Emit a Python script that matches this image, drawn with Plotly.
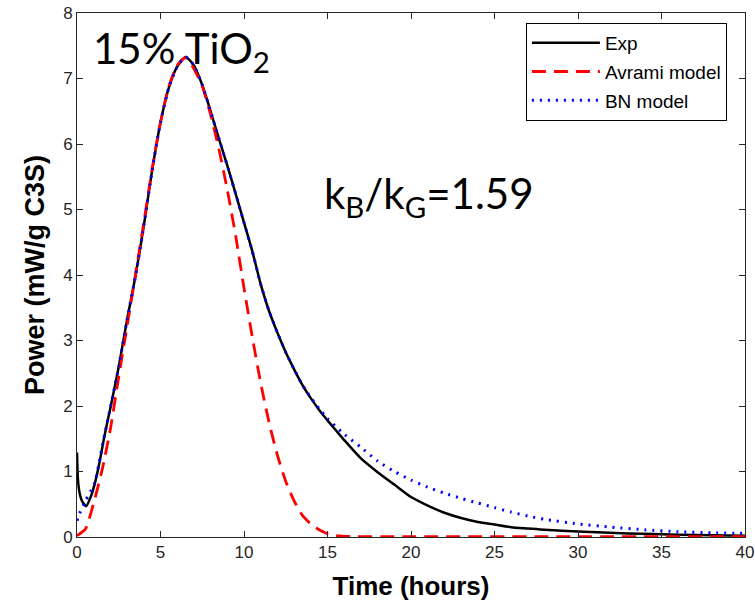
import plotly.graph_objects as go

# ---- data ----
exp_t = [0, 0.05, 0.15, 0.3, 0.55, 0.8, 1.05, 1.3, 1.65, 2.0, 2.5, 3.0, 3.5, 4.0, 4.5, 5.0,
         5.5, 6.0, 6.5, 7.0, 7.5, 8.0, 8.5, 9.0, 9.5, 10.0, 10.5, 11.0, 11.5, 12.0, 12.5,
         13.0, 13.5, 14.0, 14.5, 15.0, 15.5, 16.0, 17.0, 18.0, 19.0, 20.0, 21.0, 22.0, 23.0,
         24.0, 25.0, 26.0, 27.0, 28.0, 30.0, 33.0, 36.0, 40.0]
exp_v = [1.29, 0.9, 0.68, 0.55, 0.47, 0.6, 0.8, 1.08, 1.55, 1.97, 2.6, 3.32, 3.98, 4.75, 5.6,
         6.33, 6.86, 7.18, 7.33, 7.2, 6.9, 6.5, 6.08, 5.67, 5.24, 4.8, 4.36, 3.86, 3.45, 3.12,
         2.82, 2.56, 2.32, 2.12, 1.94, 1.78, 1.63, 1.48, 1.2, 0.99, 0.8, 0.61, 0.48, 0.37,
         0.29, 0.23, 0.19, 0.15, 0.13, 0.11, 0.085, 0.055, 0.035, 0.02]

avr_t = [0, 0.5, 1.0, 1.5, 2.0, 2.5, 3.0, 3.5, 4.0, 4.5, 5.0, 5.5, 6.0, 6.5, 7.0, 7.5,
         8.0, 8.5, 9.0, 9.5, 10.0, 10.5, 11.0, 11.5, 12.0, 12.5, 13.0, 13.5, 14.0, 14.5, 15.0,
         15.5, 16.0, 20.0, 30.0, 40.0]
avr_v = [0.02, 0.12, 0.52, 1.02, 1.65, 2.45, 3.22, 4.0, 4.8, 5.62, 6.33, 6.88, 7.2,
         7.32, 7.15, 6.88, 6.45, 5.92, 5.3, 4.6, 3.8, 3.05, 2.35, 1.75, 1.25, 0.85, 0.55,
         0.33, 0.2, 0.11, 0.05, 0.02, 0.01, 0.005, 0.005, 0.005]

bn_t = [0, 0.16, 0.5, 0.76, 1.05, 1.3, 1.65, 2.0, 2.5, 3.0, 3.5, 4.0, 4.5, 5.0, 5.5, 6.0,
        6.5, 7.0, 7.5, 8.0, 8.5, 9.0, 9.5, 10.0, 10.5, 11.0, 11.5, 12.0, 12.5, 13.0, 13.5,
        14.0, 14.5, 15.0, 16.0, 17.0, 18.0, 19.0, 20.0, 21.0, 22.0, 23.0, 24.0, 25.0, 26.0,
        27.0, 28.0, 30.0, 32.0, 34.0, 36.0, 38.0, 40.0]
bn_v = [0.25, 0.36, 0.55, 0.67, 0.82, 1.1, 1.56, 1.98, 2.6, 3.32, 3.98, 4.75, 5.6, 6.33,
        6.86, 7.18, 7.33, 7.2, 6.9, 6.5, 6.08, 5.67, 5.24, 4.8, 4.36, 3.86, 3.45, 3.12, 2.82,
        2.56, 2.32, 2.13, 1.96, 1.81, 1.57, 1.37, 1.16, 1.0, 0.87, 0.76, 0.67, 0.59, 0.52,
        0.45, 0.38, 0.32, 0.27, 0.2, 0.15, 0.11, 0.08, 0.065, 0.055]

series_names = ["Exp", "Avrami model", "BN model"]
x_ticks = [0, 5, 10, 15, 20, 25, 30, 35, 40]
y_ticks = [0, 1, 2, 3, 4, 5, 6, 7, 8]

fig = go.Figure()
fig.add_trace(go.Scatter(x=exp_t, y=exp_v, name=series_names[0], mode="lines",
                         legendgroup="g1",
                         line=dict(color="black", width=2.5, shape="spline", smoothing=0.6)))
fig.add_trace(go.Scatter(x=avr_t, y=avr_v, name=series_names[1], mode="lines",
                         legendgroup="g2",
                         line=dict(color="red", width=2.8, dash="14px,8px", shape="spline",
                                   smoothing=0.6)))
fig.add_trace(go.Scatter(x=bn_t, y=bn_v, name=series_names[2], mode="lines",
                         legendgroup="g3",
                         line=dict(color="blue", width=3, dash="2px,6px", shape="spline",
                                   smoothing=0.6)))

axis_common = dict(showline=True, linecolor="#262626", linewidth=1, mirror="allticks",
                   ticks="inside", ticklen=6, tickcolor="#262626", showgrid=False,
                   zeroline=False, automargin=False,
                   tickfont=dict(family="Liberation Sans, Arial", size=17, color="#262626"))

fig.update_xaxes(range=[0, 40], tickvals=x_ticks, ticktext=[str(v) for v in x_ticks],
                 title=dict(text="<b>Time (hours)</b>", standoff=17,
                            font=dict(family="Liberation Sans, Arial", size=26, color="black")),
                 **axis_common)
fig.update_yaxes(range=[0, 8], tickvals=y_ticks, ticktext=[str(v) for v in y_ticks],
                 title=dict(text="<b>Power (mW/g C3S)</b>", standoff=10,
                            font=dict(family="Liberation Sans, Arial", size=27, color="black")),
                 **axis_common)

fig.add_annotation(x=0.85, y=7.42, xref="x", yref="y", text="15% TiO<sub>2</sub>",
                   showarrow=False, xanchor="left", yanchor="middle",
                   font=dict(family="Lato", size=42, color="black"))
fig.add_annotation(x=14.65, y=5.2, xref="x", yref="y",
                   text="k<sub>B</sub>/k<sub>G</sub>=1.59",
                   showarrow=False, xanchor="left", yanchor="middle",
                   font=dict(family="Lato", size=42, color="black"))

fig.update_layout(
    width=755, height=601,
    margin=dict(l=77, r=10, t=13, b=64, autoexpand=False),
    paper_bgcolor="white", plot_bgcolor="white",
    showlegend=True,
    legend=dict(x=0.672, y=0.981, xanchor="left", yanchor="top",
                bgcolor="white", bordercolor="black", borderwidth=1,
                font=dict(family="Liberation Sans, Arial", size=19, color="black"),
                itemwidth=68, tracegroupgap=1, traceorder="grouped"),
)

# remove the default page margin so the figure sits at the window's top-left corner
fig.write_html("out.html",
               config={"displayModeBar": False},
               post_script="document.body.style.margin='0';"
                           "document.body.style.overflow='hidden';")
